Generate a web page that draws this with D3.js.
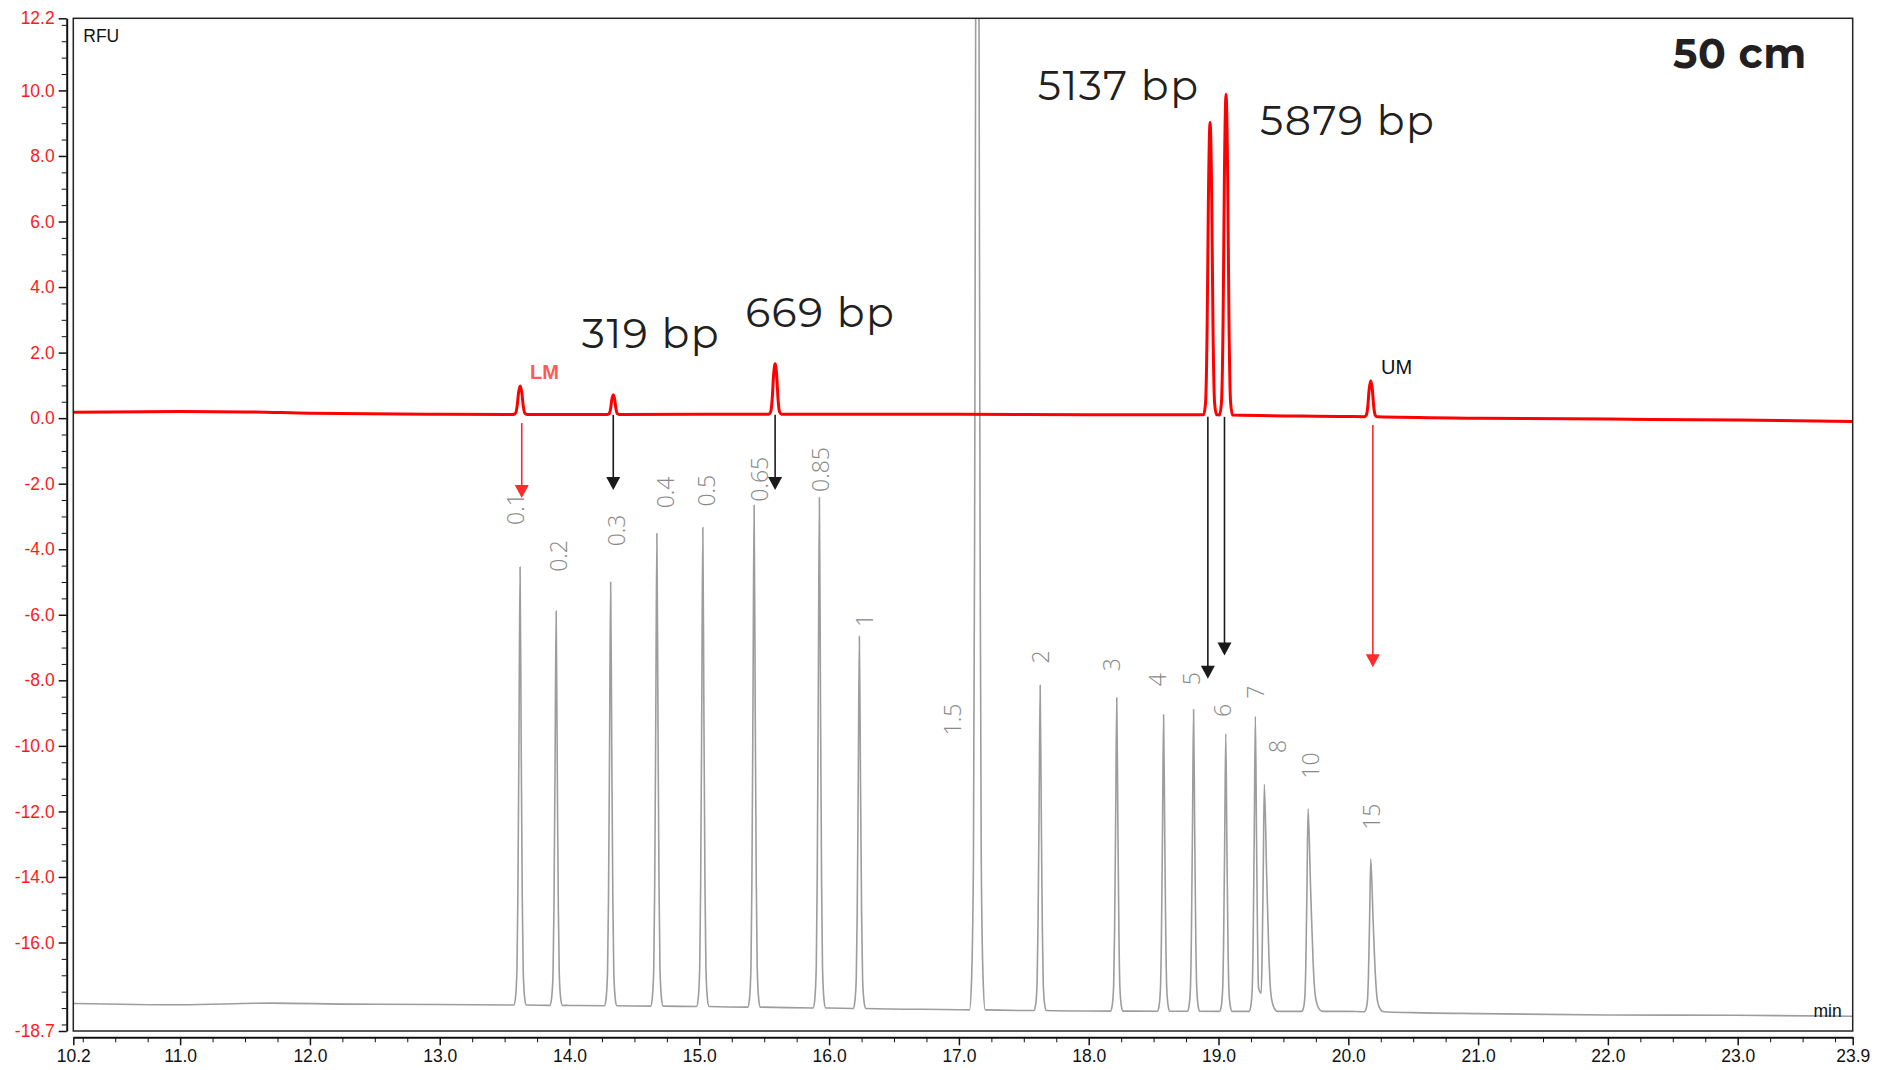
<!DOCTYPE html>
<html>
<head>
<meta charset="utf-8">
<script src="https://cdn.jsdelivr.net/npm/d3@7"></script>
<style>
  body { margin: 0; background: #fff; }
  svg { display: block; }
  .axis text { font-family: "Liberation Sans", Arial, sans-serif; font-size: 17.5px; }
  .axis path, .axis line { stroke: #111; }
</style>
</head>
<body>
<svg id="chart"></svg>
<script>
// ---------- data ----------
// ladder (gray trace): fragment size in kb, migration time (min), apex (RFU)
const ladderSizes = ["0.1", "0.2", "0.3", "0.4", "0.5", "0.65", "0.85", "1", "1.5",
                     "2", "3", "4", "5", "6", "7", "8", "10", "15"];
const ladderTime = [13.619, 13.897, 14.317, 14.673, 15.027, 15.422, 15.925, 16.233, 17.142,
                    17.626, 18.216, 18.577, 18.808, 19.056, 19.284, 19.353, 19.690, 20.173];
const ladderApex = [-4.54, -5.89, -5.0, -3.52, -3.34, -2.65, -2.42, -6.66, 40,
                    -8.15, -8.53, -9.05, -8.89, -9.63, -9.10, -11.17, -11.92, -13.45];
// peak half-widths at the foot (min), left / right
const ladderWidthL = [.048, .048, .048, .048, .048, .048, .048, .048, .06,
                      .048, .048, .048, .048, .048, .048, .048, .048, .05];
const ladderWidthR = [.048, .048, .048, .048, .048, .048, .048, .05, .06,
                      .048, .048, .048, .048, .048, .048, .10, .11, .10];
// where each size label starts (time, RFU)
const ladderLabelTime = [13.587, 13.918, 14.361, 14.740, 15.055, 15.468, 15.936, 16.277, 16.955,
                         17.632, 18.180, 18.531, 18.797, 19.032, 19.290, 19.455, 19.713, 20.181];
const ladderLabelRFU = [-3.26, -4.69, -3.91, -2.75, -2.70, -2.55, -2.25, -6.37, -9.68,
                        -7.49, -7.72, -8.18, -8.15, -9.12, -8.56, -10.22, -11.0, -12.56];
const ladderBaseTime = [10.177, 11, 11.7, 12.3, 13, 14, 15, 16, 17, 18, 19, 20, 20.5, 21, 22, 23, 23.886];
const ladderBaseRFU = [-17.86, -17.90, -17.85, -17.88, -17.89, -17.92, -17.95, -18.0, -18.05,
                       -18.09, -18.10, -18.10, -18.14, -18.17, -18.21, -18.22, -18.25];

// sample (red trace)
const sampleNames = ["LM", "319 bp", "669 bp", "5137 bp", "5879 bp", "UM"];
const sampleTime = [13.62, 14.337, 15.584, 18.935, 19.058, 20.173];
const sampleApex = [0.98, 0.71, 1.66, 9.03, 9.88, 1.14];
const sampleWidth = [.052, .045, .05, .05, .05, .05];
const sampleBaseTime = [10.177, 11, 11.5, 12, 13, 14, 15, 16, 17, 18, 19, 20, 21, 22, 23, 23.886];
const sampleBaseRFU = [0.18, 0.20, 0.19, 0.15, 0.12, 0.11, 0.12, 0.12, 0.12, 0.10, 0.10, 0.05, 0.0, -0.03, -0.06, -0.10];
// annotation anchors (time, RFU) for sample names
const sampleLabelTime = [13.696, 14.095, 15.353, 17.608, 19.320, 20.252];
const sampleLabelRFU = [1.198, 2.145, 2.787, 9.694, 8.625, 1.351];
// arrows linking sample peaks to ladder
const arrowTime = [13.632, 14.337, 15.584, 18.918, 19.046, 20.189];
const arrowFrom = [-0.15, 0.10, 0.10, 0.04, 0.04, -0.21];
const arrowTo = [-2.44, -2.19, -2.19, -7.95, -7.24, -7.60];

// axes
const xDomain = [10.177, 23.886];
const yDomain = [-18.7, 12.2];
const xTickValues = [10.177, 11, 12, 13, 14, 15, 16, 17, 18, 19, 20, 21, 22, 23, 23.886];
const yTickValues = [12.2, 10, 8, 6, 4, 2, 0, -2, -4, -6, -8, -10, -12, -14, -16, -18.7];

// ---------- layout ----------
const width = 1892, height = 1070;
const plotLeft = 73.3, plotRight = 1852.7, plotTop = 18.3, plotBottom = 1031;

const svg = d3.select("#chart").attr("width", width).attr("height", height);

const x = d3.scaleLinear().domain(xDomain).range([plotLeft, plotRight]);
const y = d3.scaleLinear().domain(yDomain).range([plotBottom, plotTop]);

svg.append("defs").append("clipPath").attr("id", "plot")
  .append("rect").attr("x", plotLeft).attr("y", plotTop)
  .attr("width", plotRight - plotLeft).attr("height", plotBottom - plotTop);

// peak shapes: [fraction of half-width, fraction of height]
const grayShape = [[-1, 0], [-0.75, 0.015], [-0.5, 0.08], [-0.35, 0.25], [-0.18, 0.6], [0, 1]];
const redShape = [[-1, 0], [-0.7, 0.04], [-0.45, 0.3], [-0.25, 0.75], [0, 1]];

function peakPoints(t, apex, base, wl, wr, shape) {
  let pts = shape.map(([f, h]) => [t + f * wl, base + h * (apex - base)]);
  shape.slice(0, -1).reverse().forEach(([f, h]) => pts.push([t - f * wr, base + h * (apex - base)]));
  return pts;
}

function buildTrace(baseT, baseV, peakT, peakA, wl, wr, shape) {
  const baseAt = d3.scaleLinear().domain(baseT).range(baseV);
  let segs = peakT.map((t, i) => ({
    t: t, lo: t - wl[i], hi: t + wr[i],
    pts: peakPoints(t, peakA[i], baseAt(t), wl[i], wr[i], shape)
  }));
  // overlapping peaks meet in a valley
  for (let i = 1; i < segs.length; i++) {
    let a = segs[i - 1], b = segs[i];
    if (a.hi > b.lo) {
      let mid = (a.hi + b.lo) / 2;
      a.pts = a.pts.filter(p => p[0] < mid);
      b.pts = b.pts.filter(p => p[0] > mid);
      a.hi = mid; b.lo = mid;
    }
  }
  let pts = baseT.map((t, i) => [t, baseV[i]])
    .filter(p => !segs.some(s => p[0] >= s.lo && p[0] <= s.hi));
  segs.forEach(s => pts.push(...s.pts));
  pts.sort((a, b) => a[0] - b[0]);
  return pts;
}

const line = d3.line().x(d => x(d[0])).y(d => y(d[1])).curve(d3.curveMonotoneX);

const grayPts = buildTrace(ladderBaseTime, ladderBaseRFU, ladderTime, ladderApex,
                           ladderWidthL, ladderWidthR, grayShape);
const redPts = buildTrace(sampleBaseTime, sampleBaseRFU, sampleTime, sampleApex,
                          sampleWidth, sampleWidth, redShape);

const plot = svg.append("g").attr("clip-path", "url(#plot)");

plot.append("path")
  .datum(grayPts)
  .attr("d", line)
  .attr("fill", "none")
  .attr("stroke", "#9d9d9d")
  .attr("stroke-width", 1.6)
  .attr("stroke-linejoin", "round");

plot.append("path")
  .datum(redPts)
  .attr("d", line)
  .attr("fill", "none")
  .attr("stroke", "#ff0000")
  .attr("stroke-width", 3)
  .attr("stroke-linejoin", "round");

// ladder size labels
svg.append("g").selectAll("text")
  .data(ladderSizes)
  .enter().append("text")
  .attr("transform", (d, i) => "translate(" + x(ladderLabelTime[i]) + "," + y(ladderLabelRFU[i]) + ") rotate(-90)")
  .attr("dy", "0.36em")
  .attr("font-family", "'Open Sans', 'Noto Sans', sans-serif")
  .attr("font-weight", 300)
  .attr("font-size", "23px")
  .attr("fill", "#888")
  .text(d => d);

// arrows
const isMarker = name => name === "LM" || name === "UM";
const arrows = svg.append("g");
sampleNames.forEach((name, i) => {
  const col = isMarker(name) ? "#ff2b2b" : "#1a1a1a";
  const ax = x(arrowTime[i]), y0 = y(arrowFrom[i]), y1 = y(arrowTo[i]);
  arrows.append("line")
    .attr("x1", ax).attr("x2", ax).attr("y1", y0).attr("y2", y1 - 10)
    .attr("stroke", col).attr("stroke-width", 1.6);
  arrows.append("path")
    .attr("d", `M${ax - 7},${y1 - 13}L${ax + 7},${y1 - 13}L${ax},${y1}Z`)
    .attr("fill", col);
});

// sample annotations
sampleNames.forEach((name, i) => {
  const t = svg.append("text")
    .attr("x", x(sampleLabelTime[i]))
    .attr("y", y(sampleLabelRFU[i]))
    .text(name);
  if (name === "LM") {
    t.attr("font-family", "'Liberation Sans', Arial, sans-serif")
      .attr("font-weight", "bold").attr("font-size", "20px").attr("fill", "#ff5a55");
  } else if (name === "UM") {
    t.attr("font-family", "'Liberation Sans', Arial, sans-serif")
      .attr("font-size", "20px").attr("fill", "#111");
  } else {
    t.attr("font-family", "Montserrat, 'Open Sans', sans-serif")
      .attr("font-size", "41px").attr("letter-spacing", "1.5px").attr("fill", "#231f20");
  }
});

// frame
svg.append("rect")
  .attr("x", plotLeft).attr("y", plotTop)
  .attr("width", plotRight - plotLeft).attr("height", plotBottom - plotTop)
  .attr("fill", "none").attr("stroke", "#222").attr("stroke-width", 1.5);

// y axis (offset left of frame)
const fmt = d => d.toFixed(1);
const yMinor = d3.range(-37, 25).map(k => k / 2).filter(v => !yTickValues.includes(v));
const yAxisX = 66.7;

svg.append("g").attr("class", "axis")
  .attr("transform", "translate(" + yAxisX + ",0)")
  .call(d3.axisLeft(y).tickValues(yMinor).tickSize(5).tickSizeOuter(0).tickFormat(""))
  .call(g => g.select(".domain").attr("stroke-width", 2));

svg.append("g").attr("class", "axis")
  .attr("transform", "translate(" + yAxisX + ",0)")
  .call(d3.axisLeft(y).tickValues(yTickValues).tickSize(8).tickSizeOuter(0).tickPadding(4).tickFormat(fmt))
  .call(g => g.select(".domain").remove())
  .call(g => g.selectAll("line").attr("stroke-width", 1.5))
  .call(g => g.selectAll("text").attr("fill", "#ff1a1a"));

// x axis (offset below frame)
const xMinor = d3.range(41, 96).map(k => k / 4).filter(v => v % 1 !== 0);
const xAxisY = 1037.3;

svg.append("g").attr("class", "axis")
  .attr("transform", "translate(0," + xAxisY + ")")
  .call(d3.axisBottom(x).tickValues(xMinor).tickSize(5).tickSizeOuter(0).tickFormat(""))
  .call(g => g.select(".domain").attr("stroke-width", 2));

svg.append("g").attr("class", "axis")
  .attr("transform", "translate(0," + xAxisY + ")")
  .call(d3.axisBottom(x).tickValues(xTickValues).tickSize(8).tickSizeOuter(0).tickPadding(4).tickFormat(fmt))
  .call(g => g.select(".domain").remove())
  .call(g => g.selectAll("line").attr("stroke-width", 1.5))
  .call(g => g.selectAll("text").attr("fill", "#111"));

// unit labels and title
svg.append("text")
  .attr("x", plotLeft + 10).attr("y", plotTop + 24)
  .attr("font-family", "'Liberation Sans', Arial, sans-serif")
  .attr("font-size", "17.5px").attr("fill", "#111")
  .text("RFU");

svg.append("text")
  .attr("x", plotRight - 11).attr("y", plotBottom - 14)
  .attr("text-anchor", "end")
  .attr("font-family", "'Liberation Sans', Arial, sans-serif")
  .attr("font-size", "17.5px").attr("fill", "#111")
  .text("min");

svg.append("text")
  .attr("x", plotRight - 46).attr("y", plotTop + 50)
  .attr("text-anchor", "end")
  .attr("font-family", "Montserrat, 'Open Sans', sans-serif")
  .attr("font-weight", "bold")
  .attr("font-size", "41px").attr("letter-spacing", "0.5px").attr("fill", "#231f20")
  .text("50 cm");
</script>
</body>
</html>
